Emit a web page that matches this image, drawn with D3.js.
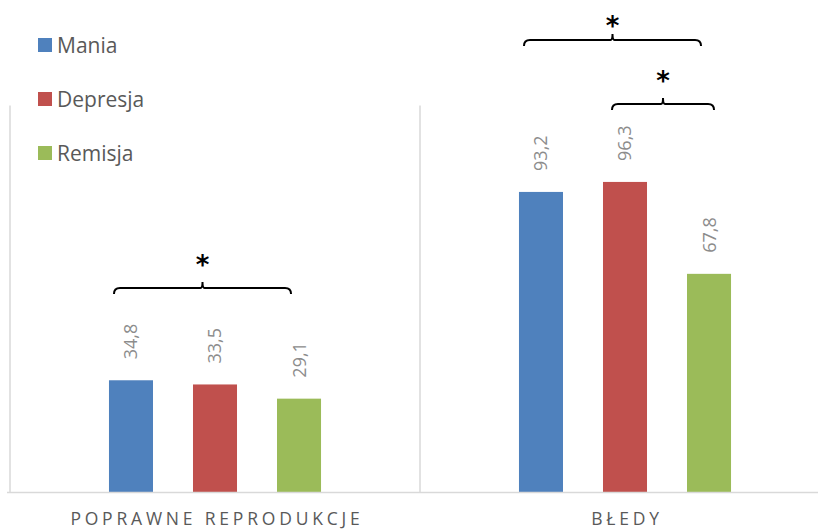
<!DOCTYPE html>
<html>
<head>
<meta charset="utf-8">
<script src="https://cdn.jsdelivr.net/npm/d3@7"></script>
<style>
  html, body { margin: 0; padding: 0; background: #fff; }
  svg { display: block; }
</style>
</head>
<body>
<svg id="chart" width="818" height="530"></svg>
<script>
// ---- data ----
const categories = ["POPRAWNE REPRODUKCJE", "BŁEDY"];
const series = ["Mania", "Depresja", "Remisja"];
const maniaValues = [34.8, 93.2];
const depresjaValues = [33.5, 96.3];
const remisjaValues = [29.1, 67.8];
const valueLabels = [["34,8", "93,2"], ["33,5", "96,3"], ["29,1", "67,8"]];
const colors = ["#4f81bd", "#c0504d", "#9bbb59"];
// significance brackets: category index, from series, to series, level (value units)
const bracketCat = [0, 1, 1];
const bracketFrom = [0, 0, 1];
const bracketTo = [2, 2, 2];
const bracketLevel = [63.4, 140.3, 120.5];
const bracketMark = ["*", "*", "*"];

const values = [maniaValues, depresjaValues, remisjaValues];

const svg = d3.select("#chart");
const W = 818, H = 530;
const mLeft = 10, mRight = 830, mTop = 105.5, mBottom = 492.5;

const x0 = d3.scaleBand().domain(categories).range([mLeft, mRight]).padding(0);
const x1 = d3.scaleBand().domain(series).range([0, x0.bandwidth()])
  .paddingInner(0.476).paddingOuter(1.178);
const y = d3.scaleLinear().domain([0, 120]).range([mBottom, mTop]);

const grid = "#d9d9d9";
// vertical separators (category boundaries)
categories.forEach(c => {
  svg.append("line")
    .attr("x1", x0(c)).attr("x2", x0(c))
    .attr("y1", y(120)).attr("y2", mBottom)
    .attr("stroke", grid).attr("stroke-width", 1.5);
});

// bars
series.forEach((s, si) => {
  const g = svg.append("g");
  categories.forEach((c, ci) => {
    g.append("rect")
      .attr("x", x0(c) + x1(s))
      .attr("y", y(values[si][ci]))
      .attr("width", x1.bandwidth())
      .attr("height", y(0) - y(values[si][ci]))
      .attr("fill", colors[si]);
    const cx = x0(c) + x1(s) + x1.bandwidth() / 2;
    const ty = y(values[si][ci]) - 21;
    g.append("text")
      .attr("transform", `translate(${cx},${ty}) rotate(-90)`)
      .attr("text-anchor", "start")
      .attr("dy", "0.36em")
      .attr("font-family", "'Open Sans', sans-serif")
      .attr("font-size", 18)
      .attr("fill", "#8c8c8c")
      .text(valueLabels[si][ci]);
  });
});

// x axis line
svg.append("line")
  .attr("x1", 7).attr("x2", W)
  .attr("y1", mBottom).attr("y2", mBottom)
  .attr("stroke", grid).attr("stroke-width", 1.5);

// category labels
categories.forEach(c => {
  svg.append("text")
    .attr("x", x0(c) + x0.bandwidth() / 2 + 2)
    .attr("y", 525)
    .attr("text-anchor", "middle")
    .attr("font-family", "'Open Sans', sans-serif")
    .attr("font-size", 17.5)
    .attr("letter-spacing", "3.8px")
    .attr("fill", "#595959")
    .text(c);
});

// brackets
bracketCat.forEach((ci, i) => {
  const c = categories[ci];
  const xa = x0(c) + x1(series[bracketFrom[i]]) + 5 + (bracketFrom[i] > 0 ? 4 : 0);
  const xb = x0(c) + x1(series[bracketTo[i]]) + x1.bandwidth() - (bracketFrom[i] > 0 ? 17 : 30);
  const yl = y(bracketLevel[i]);
  const xm = (xa + xb) / 2;
  const r = 4;
  const path = `M${xa},${yl + 6} Q${xa},${yl} ${xa + r + 2},${yl} L${xm - 2},${yl} Q${xm},${yl} ${xm},${yl - 6} Q${xm},${yl} ${xm + 2},${yl} L${xb - r - 2},${yl} Q${xb},${yl} ${xb},${yl + 6}`;
  svg.append("path")
    .attr("d", path)
    .attr("fill", "none")
    .attr("stroke", "#000")
    .attr("stroke-width", 2);
  const markCenter = Math.max(yl - 28, 21);
  svg.append("text")
    .attr("x", xm)
    .attr("y", markCenter + 14)
    .attr("text-anchor", "middle")
    .attr("font-family", "'DejaVu Sans', sans-serif")
    .attr("font-size", 26)
    .attr("font-weight", "bold")
    .attr("fill", "#000")
    .text(bracketMark[i]);
});

// legend
series.forEach((s, si) => {
  const ly = 45 + si * 54;
  svg.append("rect")
    .attr("x", 38).attr("y", ly - 7)
    .attr("width", 14).attr("height", 14)
    .attr("fill", colors[si]);
  svg.append("text")
    .attr("x", 57).attr("y", ly)
    .attr("dy", "0.36em")
    .attr("font-family", "'Open Sans', sans-serif")
    .attr("font-size", 21)
    .attr("fill", "#595959")
    .text(s);
});
</script>
</body>
</html>
